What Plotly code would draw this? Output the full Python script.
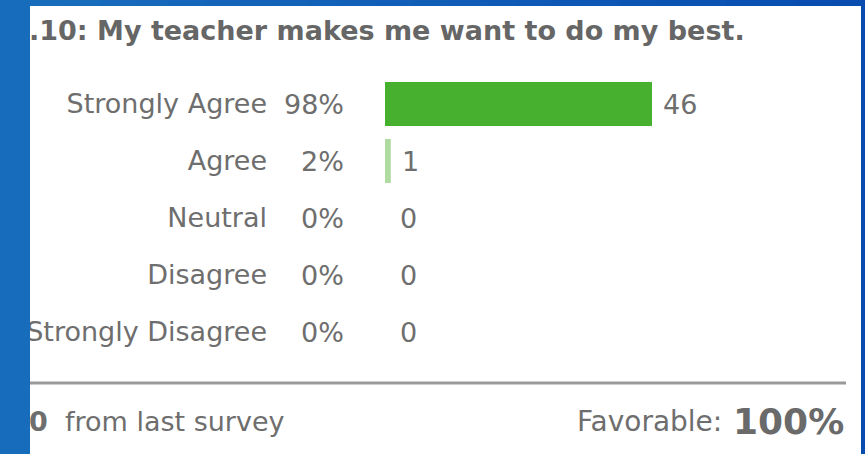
import plotly.graph_objects as go

# Survey item results
question = ".10: My teacher makes me want to do my best."
categories = ["Strongly Agree", "Agree", "Neutral", "Disagree", "Strongly Disagree"]
counts = [46, 1, 0, 0, 0]
percents = ["98%", "2%", "0%", "0%", "0%"]
change_from_last = "0"
favorable = "100%"

W, H = 865, 454
FONT = "DejaVu Sans"
GRAY = "#6e6e6e"
LABEL_SIZE = 27
bar_colors = ["#48b02f", "#b0dba0", "#b0dba0", "#b0dba0", "#b0dba0"]

def px(x):
    return x / W

def py(y):
    return 1 - y / H

fig = go.Figure(
    go.Bar(
        x=counts,
        y=categories,
        orientation="h",
        marker=dict(color=bar_colors, line=dict(width=0)),
        hoverinfo="skip",
    )
)

# Category rows: centres ~57px apart, first at y=104
row_top, row_bot = 75.5, 360.5

fig.update_layout(
    width=W,
    height=H,
    margin=dict(l=0, r=0, t=0, b=0),
    paper_bgcolor="white",
    plot_bgcolor="white",
    showlegend=False,
    bargap=0.23,
    font=dict(family=FONT, color=GRAY),
    xaxis=dict(
        domain=[px(385), px(652)],
        range=[0, max(counts)],
        visible=False,
        fixedrange=True,
    ),
    yaxis=dict(
        domain=[py(row_bot), py(row_top)],
        categoryorder="array",
        categoryarray=categories[::-1],
        showgrid=False,
        zeroline=False,
        showline=False,
        ticks="",
        ticklabelstandoff=117,
        tickfont=dict(family=FONT, size=LABEL_SIZE, color=GRAY),
        fixedrange=True,
    ),
)

annotations = []
# Percent column
for cat, pct in zip(categories, percents):
    annotations.append(dict(
        x=px(346), xref="paper", y=cat, yref="y",
        text=pct, showarrow=False, xanchor="right", yanchor="middle",
        font=dict(family=FONT, size=LABEL_SIZE, color=GRAY),
    ))
# Count labels after each bar
for cat, n in zip(categories, counts):
    annotations.append(dict(
        x=n, xref="x", y=cat, yref="y",
        text=str(n), showarrow=False, xanchor="left", yanchor="middle",
        xshift=9 if n else 13,
        font=dict(family=FONT, size=LABEL_SIZE, color=GRAY),
    ))
# Title
annotations.append(dict(
    x=px(27), xref="paper", y=py(31), yref="paper",
    text=f"<b>{question}</b>", showarrow=False, xanchor="left", yanchor="middle",
    font=dict(family=FONT, size=27, color="#666666"),
))
# Footer
annotations.append(dict(
    x=px(27), xref="paper", y=py(421), yref="paper",
    text=f"<b>{change_from_last}</b>  from last survey", showarrow=False,
    xanchor="left", yanchor="middle",
    font=dict(family=FONT, size=27, color=GRAY),
))
annotations.append(dict(
    x=px(724), xref="paper", y=py(421), yref="paper",
    text="Favorable:", showarrow=False, xanchor="right", yanchor="middle",
    font=dict(family=FONT, size=28, color=GRAY),
))
annotations.append(dict(
    x=px(846), xref="paper", y=py(421), yref="paper",
    text=f"<b>{favorable}</b>", showarrow=False, xanchor="right", yanchor="middle",
    font=dict(family=FONT, size=36, color="#6a6a6a"),
))
fig.update_layout(annotations=annotations)

shapes = []
# Separator rule
shapes.append(dict(type="line", xref="paper", yref="paper",
                   x0=px(30), x1=px(846), y0=py(383), y1=py(383),
                   line=dict(color="#9a9a9a", width=3)))
# Blue frame: left, top (graded), right
shapes.append(dict(type="rect", xref="paper", yref="paper",
                   x0=0, x1=px(30), y0=0, y1=1,
                   fillcolor="#176cbc", line=dict(width=0), layer="above"))
n_seg = 24
c0, c1 = (23, 108, 188), (8, 76, 176)
for i in range(n_seg):
    t = i / (n_seg - 1)
    col = "rgb({},{},{})".format(*[round(a + (b - a) * t) for a, b in zip(c0, c1)])
    shapes.append(dict(type="rect", xref="paper", yref="paper",
                       x0=px(30) + (1 - px(30)) * i / n_seg,
                       x1=px(30) + (1 - px(30)) * (i + 1) / n_seg + 0.002,
                       y0=py(6), y1=1,
                       fillcolor=col, line=dict(width=0), layer="above"))
shapes.append(dict(type="rect", xref="paper", yref="paper",
                   x0=px(861), x1=1, y0=0, y1=1,
                   fillcolor="#084cb0", line=dict(width=0), layer="above"))
fig.update_layout(shapes=shapes)

fig.write_html("out.html", config={"displayModeBar": False})
